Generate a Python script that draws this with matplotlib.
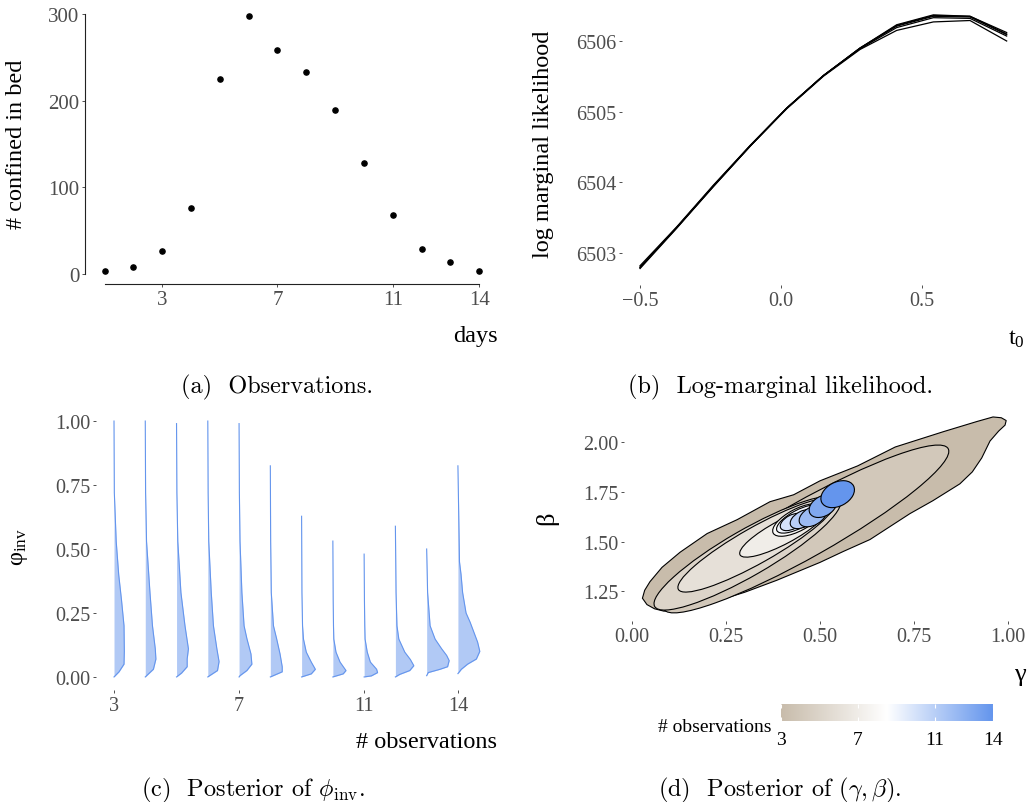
import matplotlib.pyplot as plt
import numpy as np
from matplotlib.colors import LinearSegmentedColormap
from matplotlib.patches import Ellipse, Polygon
from matplotlib.transforms import Affine2D

plt.rcParams['font.family'] = 'Liberation Serif'
plt.rcParams['mathtext.fontset'] = 'cm'

# (a) pocet chorych v posteli podla dna
dni = list(range(1, 15))
v_posteli = [3, 8, 26, 76, 225, 298, 258, 233, 189, 128, 68, 29, 14, 4]

# (b) log marginalna vierohodnost pre niekolko behov
t0 = [-0.5, -0.37, -0.24, -0.11, 0.02, 0.15, 0.28, 0.41, 0.54, 0.67, 0.8]
loglik = [
    [6502.78, 6503.35, 6503.94, 6504.51, 6505.05, 6505.51, 6505.90, 6506.23, 6506.37, 6506.35, 6506.12],
    [6502.80, 6503.36, 6503.95, 6504.51, 6505.05, 6505.51, 6505.90, 6506.21, 6506.35, 6506.34, 6506.09],
    [6502.82, 6503.37, 6503.96, 6504.52, 6505.05, 6505.51, 6505.89, 6506.19, 6506.33, 6506.32, 6506.07],
    [6502.79, 6503.36, 6503.94, 6504.51, 6505.04, 6505.50, 6505.88, 6506.15, 6506.27, 6506.29, 6506.00],
    [6502.80, 6503.36, 6503.95, 6504.52, 6505.05, 6505.51, 6505.90, 6506.22, 6506.36, 6506.35, 6506.10],
]

# (c) polovicne husle pre phi_inv, vyska a polsirka hustoty
pocty = list(range(3, 15))
phi_y = [
    [1.00, 0.72, 0.53, 0.40, 0.30, 0.20, 0.10, 0.05, 0.02, 0.00],
    [1.00, 0.72, 0.53, 0.33, 0.20, 0.11, 0.07, 0.03, 0.00],
    [0.99, 0.72, 0.53, 0.33, 0.20, 0.11, 0.07, 0.04, 0.015, 0.00],
    [1.00, 0.72, 0.53, 0.33, 0.20, 0.11, 0.06, 0.025, 0.005, 0.00],
    [0.99, 0.72, 0.53, 0.33, 0.20, 0.15, 0.09, 0.05, 0.025, 0.005, 0.00],
    [0.825, 0.53, 0.33, 0.20, 0.15, 0.09, 0.04, 0.02, 0.01, 0.00],
    [0.628, 0.33, 0.20, 0.148, 0.097, 0.058, 0.03, 0.012, 0.00],
    [0.531, 0.30, 0.20, 0.148, 0.097, 0.058, 0.025, 0.012, 0.00],
    [0.48, 0.30, 0.20, 0.148, 0.097, 0.058, 0.03, 0.017, 0.004, 0.00],
    [0.589, 0.33, 0.20, 0.148, 0.097, 0.068, 0.044, 0.025, 0.01, 0.00],
    [0.50, 0.33, 0.20, 0.148, 0.11, 0.084, 0.064, 0.04, 0.03, 0.017, 0.005],
    [0.825, 0.45, 0.40, 0.33, 0.25, 0.214, 0.175, 0.136, 0.10, 0.07, 0.05, 0.03, 0.013],
]
phi_w = [
    [0, 0.01, 0.07, 0.15, 0.24, 0.32, 0.33, 0.32, 0.16, 0],
    [0, 0.01, 0.04, 0.15, 0.23, 0.32, 0.34, 0.26, 0],
    [0, 0.01, 0.04, 0.14, 0.27, 0.38, 0.34, 0.34, 0.16, 0],
    [0, 0.01, 0.03, 0.11, 0.18, 0.29, 0.36, 0.31, 0.06, 0],
    [0, 0.01, 0.03, 0.09, 0.16, 0.25, 0.38, 0.41, 0.25, 0.03, 0],
    [0, 0.01, 0.03, 0.10, 0.20, 0.31, 0.38, 0.38, 0.19, 0],
    [0, 0.01, 0.03, 0.06, 0.15, 0.31, 0.44, 0.31, 0],
    [0, 0.01, 0.02, 0.03, 0.10, 0.23, 0.42, 0.33, 0],
    [0, 0.01, 0.02, 0.03, 0.10, 0.20, 0.40, 0.43, 0.23, 0],
    [0, 0.02, 0.05, 0.11, 0.30, 0.48, 0.59, 0.46, 0.14, 0],
    [0, 0.03, 0.11, 0.27, 0.48, 0.64, 0.72, 0.67, 0.43, 0.05, 0],
    [0, 0.05, 0.10, 0.15, 0.26, 0.39, 0.51, 0.63, 0.70, 0.59, 0.31, 0.11, 0],
]

# (d) obrys posterioru (gamma, beta) po 3 pozorovaniach
obrys_gamma = [0.028, 0.040, 0.060, 0.085, 0.120, 0.207, 0.300, 0.385, 0.500, 0.562, 0.633,
               0.739, 0.800, 0.872, 0.905, 0.930, 0.952, 0.975, 0.992, 0.995,
               0.982, 0.960, 0.917, 0.828, 0.700, 0.600, 0.500, 0.430, 0.367, 0.280,
               0.200, 0.128, 0.080, 0.048, 0.034]
obrys_beta = [1.215, 1.183, 1.162, 1.150, 1.152, 1.190, 1.245, 1.305, 1.395, 1.450, 1.510,
              1.640, 1.705, 1.790, 1.850, 1.920, 2.005, 2.055, 2.085, 2.108,
              2.122, 2.126, 2.103, 2.052, 1.975, 1.880, 1.805, 1.735, 1.700, 1.610,
              1.540, 1.446, 1.370, 1.298, 1.255]
# dalsie oblasti pre 4..14 pozorovani ako elipsy (stred, osi v jednotkach beta, uhol)
elipsa_n = [4, 5, 6, 7, 8, 9, 10, 11, 12, 13, 14]
elipsa_gamma = [0.463, 0.307, 0.332, 0.402, 0.441, 0.444, 0.426, 0.455, 0.481, 0.508, 0.547]
elipsa_beta = [1.563, 1.442, 1.482, 1.548, 1.608, 1.613, 1.598, 1.613, 1.628, 1.678, 1.738]
elipsa_dlzka = [1.64, 1.075, 0.905, 0.49, 0.28, 0.25, 0.13, 0.14, 0.15, 0.15, 0.18]
elipsa_sirka = [0.28, 0.23, 0.18, 0.12, 0.11, 0.09, 0.07, 0.08, 0.09, 0.10, 0.12]
elipsa_uhol = [29.5, 30, 29.5, 28, 28, 28, 28, 28, 30, 30, 28]

ticky_pozorovani = [3, 7, 11, 14]

W, H = 1028, 803


def box(x0, y0, x1, y1):
    return [x0 / W, 1 - y1 / H, (x1 - x0) / W, (y1 - y0) / H]


def ticky(ax, size=14.5):
    ax.tick_params(direction='out', length=2.5, width=0.6, color='#333333',
                   labelcolor='#4d4d4d', labelsize=size, pad=1.5)


fig = plt.figure(figsize=(W / 100, H / 100), dpi=100)

# Graf (a)
ax1 = fig.add_axes(box(85, 4, 498, 285))
ax1.scatter(dni, v_posteli, s=14, color='black', zorder=3)
ax1.set_xlim(0.323, 14.65)
ax1.set_ylim(-11.5, 312.7)
ax1.set_xticks(ticky_pozorovani)
ax1.set_yticks([0, 100, 200, 300])
for s in ['top', 'right']:
    ax1.spines[s].set_visible(False)
ax1.spines['left'].set_bounds(0, 300)
ax1.spines['bottom'].set_bounds(1, 14)
for s in ['left', 'bottom']:
    ax1.spines[s].set_linewidth(0.8)
    ax1.spines[s].set_color('#222222')
ticky(ax1, 15)
ax1.text(1.0, -0.185, 'days', transform=ax1.transAxes, ha='right', va='center', fontsize=17.5)
ax1.text(-0.165, 0.5, '# confined in bed', transform=ax1.transAxes, rotation=90,
         ha='center', va='center', fontsize=17.5)

# Graf (b)
ax2 = fig.add_axes(box(622, 3, 1025, 286))
for krivka in loglik:
    ax2.plot(t0, krivka, color='black', lw=0.9)
ax2.set_xlim(-0.564, 0.865)
ax2.set_ylim(6502.547, 6506.552)
ax2.set_xticks([-0.5, 0.0, 0.5])
ax2.set_xticklabels(['\u22120.5', '0.0', '0.5'])
ax2.set_yticks([6503, 6504, 6505, 6506])
for s in ax2.spines.values():
    s.set_visible(False)
ticky(ax2)
ax2.text(1.0, -0.19, r'$\mathregular{t_0}$', transform=ax2.transAxes, ha='right', va='center',
         fontsize=17.5)
ax2.text(-0.196, 0.5, 'log marginal likelihood', transform=ax2.transAxes, rotation=90,
         ha='center', va='center', fontsize=17.5)

# Graf (c)
ax3 = fig.add_axes(box(96, 409, 497, 691))
for n, ys, ws in zip(pocty, phi_y, phi_w):
    ys = np.array(ys)
    xs = n + np.array(ws)
    ax3.fill_betweenx(ys, n, xs, color='#6495ED', alpha=0.5, lw=0)
    ax3.plot(xs, ys, color='#6495ED', lw=0.8)
ax3.set_xlim(2.424, 15.25)
ax3.set_ylim(-0.051, 1.051)
ax3.set_xticks(ticky_pozorovani)
ax3.set_yticks([0, 0.25, 0.5, 0.75, 1.0])
ax3.set_yticklabels(['0.00', '0.25', '0.50', '0.75', '1.00'])
for s in ax3.spines.values():
    s.set_visible(False)
ticky(ax3)
ax3.text(1.0, -0.181, '# observations', transform=ax3.transAxes, ha='right', va='center',
         fontsize=17.5)
ax3.text(-0.19, 0.51, r'$\mathregular{φ_{inv}}$', transform=ax3.transAxes, rotation=90,
         ha='center', va='center', fontsize=17.5)

# Graf (d)
paleta = LinearSegmentedColormap.from_list('obs', ['#c8bcab', '#ffffff', '#6495ED'])
ax4 = fig.add_axes(box(624, 410, 1028, 622))
ax4.set_xlim(-0.021, 1.053)
ax4.set_ylim(1.1005, 2.166)
farba = lambda n: paleta((n - 3) / 11)
ax4.add_patch(Polygon(np.column_stack([obrys_gamma, obrys_beta]), closed=True,
                      facecolor=farba(3), edgecolor='black', lw=0.8, zorder=2))
# elipsy kreslime v priestore, kde gamma aj beta maju rovnaku mierku
ASPECT = 376 / 199
tr = Affine2D().scale(1 / ASPECT, 1) + ax4.transData
for i, n in enumerate(elipsa_n):
    ax4.add_patch(Ellipse((elipsa_gamma[i] * ASPECT, elipsa_beta[i]), elipsa_dlzka[i],
                          elipsa_sirka[i], angle=elipsa_uhol[i], transform=tr,
                          facecolor=farba(n), edgecolor='black', lw=0.8, zorder=3 + i))
ax4.set_xticks([0, 0.25, 0.5, 0.75, 1.0])
ax4.set_xticklabels(['0.00', '0.25', '0.50', '0.75', '1.00'])
ax4.set_yticks([1.25, 1.5, 1.75, 2.0])
ax4.set_yticklabels(['1.25', '1.50', '1.75', '2.00'])
for s in ax4.spines.values():
    s.set_visible(False)
ticky(ax4)
ax4.text(0.995, -0.252, 'γ', transform=ax4.transAxes, ha='right', va='center', fontsize=19)
ax4.text(-0.19, 0.49, 'β', transform=ax4.transAxes, rotation=90, ha='center', va='center',
         fontsize=19)

# farebna skala
cax = fig.add_axes(box(781, 705, 993, 722))
cax.imshow(np.linspace(3, 14, 256)[None, :], extent=[3, 14, 0, 1], aspect='auto', cmap=paleta)
cax.set_xticks(ticky_pozorovani)
cax.set_yticks([])
cax.tick_params(axis='x', direction='in', length=3, width=0.8, color='white', top=True,
                labelsize=14, labelcolor='black', pad=7)
for s in cax.spines.values():
    s.set_visible(False)
cax.text(-0.047, -0.35, '# observations', transform=cax.transAxes, ha='right', va='center',
         fontsize=14)

# popisky pod grafmi
cap = dict(family='cmr10', fontsize=17.5, ha='center', va='center')
fig.text(277 / W, 1 - 387 / H, '(a)  Observations.', **cap)
fig.text(780 / W, 1 - 387 / H, '(b)  Log-marginal likelihood.', **cap)
fig.text(253 / W, 1 - 790 / H, r'(c)  Posterior of $\phi_{\rm inv}$.', **cap)
fig.text(780 / W, 1 - 790 / H, r'(d)  Posterior of $(\gamma, \beta)$.', **cap)

fig.savefig('out.png', dpi=100)
